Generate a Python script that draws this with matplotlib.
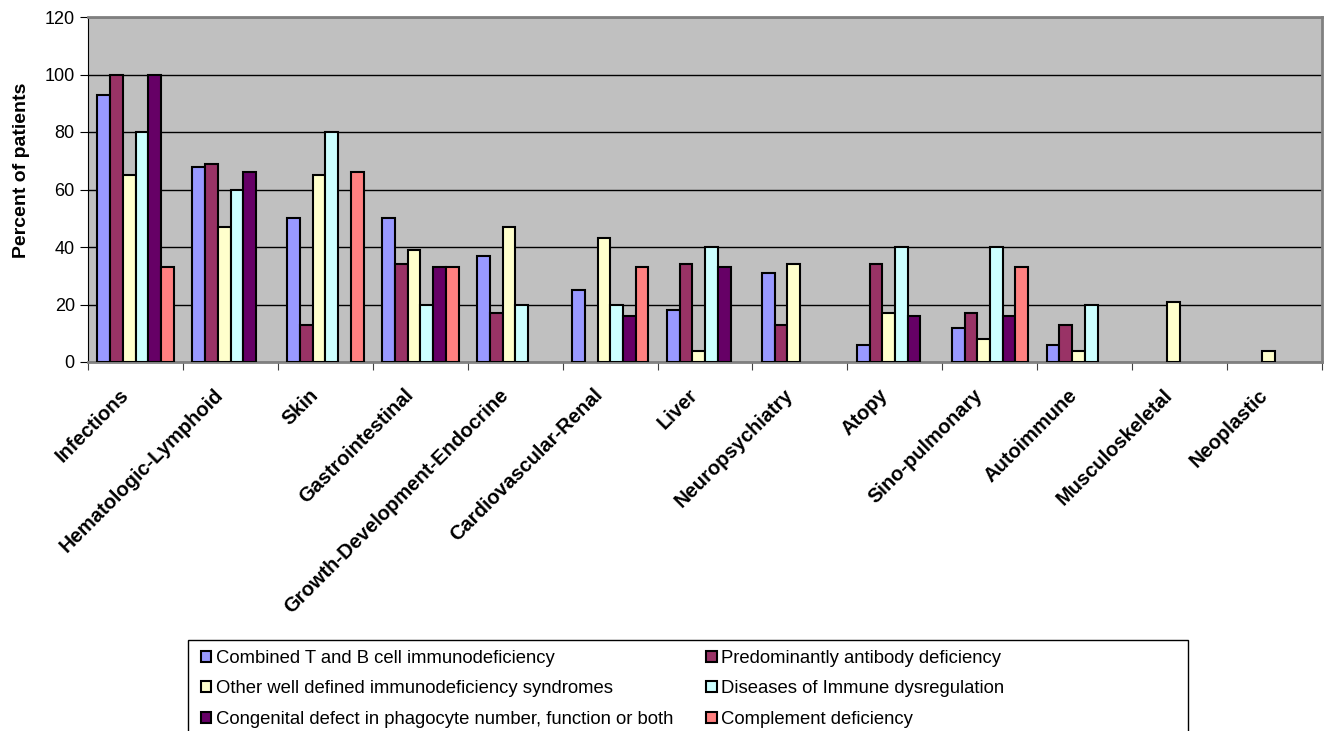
import numpy as np
import matplotlib
matplotlib.use("Agg")
from matplotlib import pyplot as plt
from matplotlib.patches import Rectangle

plt.rcParams['font.family'] = ['Liberation Sans', 'DejaVu Sans']

categories = ["Infections", "Hematologic-Lymphoid", "Skin", "Gastrointestinal",
              "Growth-Development-Endocrine", "Cardiovascular-Renal", "Liver",
              "Neuropsychiatry", "Atopy", "Sino-pulmonary", "Autoimmune",
              "Musculoskeletal", "Neoplastic"]

combined_tb = [93, 68, 50, 50, 37, 25, 18, 31, 6, 12, 6, 0, 0]
antibody = [100, 69, 13, 34, 17, 0, 34, 13, 34, 17, 13, 0, 0]
other_syndromes = [65, 47, 65, 39, 47, 43, 4, 34, 17, 8, 4, 21, 4]
dysregulation = [80, 60, 80, 20, 20, 20, 40, 0, 40, 40, 20, 0, 0]
phagocyte = [100, 66, 0, 33, 0, 16, 33, 0, 16, 16, 0, 0, 0]
complement = [33, 0, 66, 33, 0, 33, 0, 0, 0, 33, 0, 0, 0]

series_names = ["Combined T and B cell immunodeficiency",
                "Predominantly antibody deficiency",
                "Other well defined immunodeficiency syndromes",
                "Diseases of Immune dysregulation",
                "Congenital defect in phagocyte number, function or both",
                "Complement deficiency"]
colors = ["#9999FF", "#993366", "#FFFFCC", "#CCFFFF", "#660066", "#FF8080"]
series = [combined_tb, antibody, other_syndromes, dysregulation, phagocyte, complement]

fig = plt.figure(figsize=(13.25, 7.31), dpi=100)
ax = fig.add_axes([88/1325, 1-362/731, (1322-88)/1325, (362-17)/731])
ax.set_facecolor("#C0C0C0")

x = np.arange(len(categories))
w = 0.134
handles = []
for i, (vals, c, name) in enumerate(zip(series, colors, series_names)):
    offs = x - 0.5 + 0.1 + w * (i + 0.5)
    b = ax.bar(offs, vals, width=w, color=c, edgecolor="black", linewidth=1.5,
               label=name, zorder=3)
    # zero-height bars are not drawn
    for rect, v in zip(b, vals):
        if v == 0:
            rect.set_visible(False)
    handles.append(b)

ax.set_xlim(-0.5, len(categories) - 0.5)
ax.set_ylim(0, 120)
ax.set_yticks(range(0, 121, 20))
ax.yaxis.grid(True, color="black", linewidth=1)
ax.set_axisbelow(True)

# ticks between categories, labels drawn separately
ax.set_xticks(np.arange(len(categories) + 1) - 0.5)
ax.set_xticklabels([])
ax.tick_params(axis="x", length=6, direction="out", color="#404040")
ax.tick_params(axis="y", length=6, direction="out", labelsize=13)
for i, cat in enumerate(categories):
    ax.annotate(cat, xy=(i, 0), xycoords=("data", "axes fraction"),
                xytext=(-10, -30), textcoords="offset pixels",
                rotation=45, ha="right", va="center", rotation_mode="anchor",
                fontsize=14.5, fontweight="bold")

for side in ["top", "right", "bottom"]:
    ax.spines[side].set_color("#808080")
    ax.spines[side].set_linewidth(2)
ax.spines["left"].set_color("black")

ax.set_ylabel("Percent of patients", fontsize=14, fontweight="bold")
ax.yaxis.set_label_coords(-0.047, 0.557)

# legend filled row by row
order = [0, 2, 4, 1, 3, 5]
fig.legend(handles=[handles[k] for k in order],
           labels=[series_names[k] for k in order], ncol=2,
           loc="upper left", bbox_to_anchor=(201/1325, 1-650/731),
           frameon=False, fontsize=13.3, handlelength=0.55, handleheight=0.55,
           handletextpad=0.25, columnspacing=1.8, labelspacing=0.72,
           borderaxespad=0, borderpad=0)
fig.patches.append(Rectangle((188/1325, -0.01), 1000/1325, 1-640/731 + 0.01,
                             transform=fig.transFigure, fill=False,
                             edgecolor="black", linewidth=1))

fig.savefig("out.png", dpi=100, facecolor="white")
